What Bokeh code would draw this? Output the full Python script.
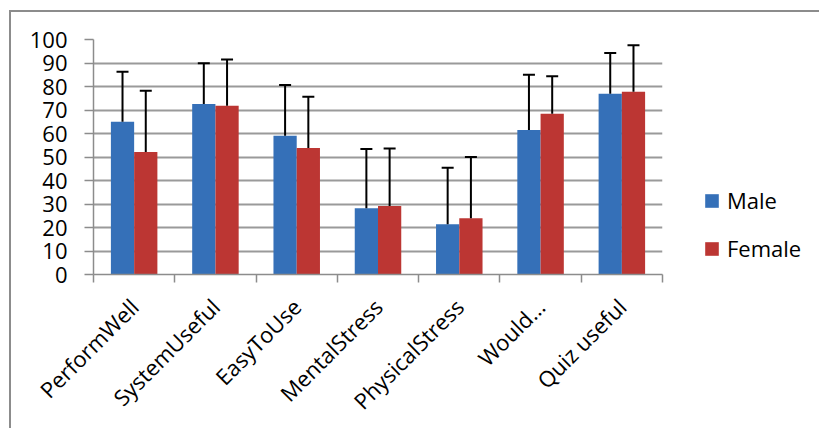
import numpy as np
from math import pi
from bokeh.plotting import figure
from bokeh.models import (ColumnDataSource, Range1d, FixedTicker, Whisker, TeeHead,
                          Legend, LegendItem, InlineStyleSheet)
from bokeh.embed import file_html
from bokeh.resources import INLINE

categories = ["PerformWell", "SystemUseful", "EasyToUse", "MentalStress",
              "PhysicalStress", "Would...", "Quiz useful"]
male_mean = [65.0, 72.6, 59.0, 28.2, 21.4, 61.5, 76.9]
male_sd = [21.3, 17.3, 21.6, 25.2, 24.0, 23.5, 17.4]
female_mean = [52.1, 71.8, 53.8, 29.1, 23.9, 68.4, 77.8]
female_sd = [26.1, 19.7, 21.8, 24.5, 26.1, 16.0, 19.8]
y_ticks = [0, 10, 20, 30, 40, 50, 60, 70, 80, 90, 100]

FONT = "Open Sans"
MALE_C = "#3570B8"
FEMALE_C = "#BC3633"
OFF = 0.143
BW = 0.286

n = len(categories)
xc = np.arange(n) + 0.5
src = ColumnDataSource(dict(
    xm=xc - OFF, xf=xc + OFF,
    m=male_mean, f=female_mean,
    m_up=np.array(male_mean) + np.array(male_sd),
    f_up=np.array(female_mean) + np.array(female_sd),
))

p = figure(frame_width=569, frame_height=235, output_backend="svg", toolbar_location=None,
           x_range=Range1d(0, n), y_range=Range1d(0, 100),
           min_border_left=93, min_border_right=149, min_border_top=39, min_border_bottom=120)
p.outline_line_color = None
p.background_fill_color = "white"
p.border_fill_color = "white"

rm = p.vbar(x="xm", top="m", bottom=0, width=BW, source=src, fill_color=MALE_C, line_color=None)
rf = p.vbar(x="xf", top="f", bottom=0, width=BW, source=src, fill_color=FEMALE_C, line_color=None)

for base, lo, up in (("xm", "m", "m_up"), ("xf", "f", "f_up")):
    w = Whisker(base=base, lower=lo, upper=up, source=src, dimension="height",
                line_color="black", line_width=2, level="annotation",
                upper_head=TeeHead(size=12, line_width=2, line_color="black"),
                lower_head=None)
    p.add_layout(w)

# y axis
p.yaxis.ticker = FixedTicker(ticks=y_ticks)
p.yaxis.major_tick_out = 9
p.yaxis.major_tick_in = 0
p.yaxis.minor_tick_out = 0
p.yaxis.minor_tick_in = 0
p.yaxis.axis_line_color = "#8C8C8C"
p.yaxis.axis_line_width = 1.5
p.yaxis.major_tick_line_color = "#8C8C8C"
p.yaxis.major_tick_line_width = 1.5
p.yaxis.major_label_text_font = FONT
p.yaxis.major_label_text_font_size = "22px"
p.yaxis.major_label_text_color = "black"
p.yaxis.major_label_standoff = 17

# x axis: labels at centres, ticks at boundaries
p.xaxis.ticker = FixedTicker(ticks=list(xc), minor_ticks=list(range(n + 1)))
p.xaxis.major_label_overrides = {float(x): c for x, c in zip(xc, categories)}
p.xaxis.major_tick_out = 0
p.xaxis.major_tick_in = 0
p.xaxis.minor_tick_out = 8
p.xaxis.minor_tick_in = 0
p.xaxis.minor_tick_line_color = "#8C8C8C"
p.xaxis.minor_tick_line_width = 1.5
p.xaxis.axis_line_color = "#8C8C8C"
p.xaxis.axis_line_width = 1.5
p.xaxis.major_label_orientation = pi / 4
p.xaxis.major_label_text_font = FONT
p.xaxis.major_label_text_font_size = "22px"
p.xaxis.major_label_text_color = "black"
p.xaxis.major_label_standoff = 20

p.xgrid.grid_line_color = None
p.ygrid.ticker = FixedTicker(ticks=y_ticks)
p.ygrid.grid_line_color = "#9A9A9A"
p.ygrid.grid_line_width = 2

legend = Legend(items=[LegendItem(label="Male", renderers=[rm]),
                       LegendItem(label="Female", renderers=[rf])],
                location=(41, 11), orientation="vertical",
                glyph_width=17, glyph_height=17, label_height=30, spacing=18,
                label_standoff=7, padding=0, margin=0,
                label_text_font=FONT, label_text_font_size="22px",
                label_text_color="black",
                border_line_color=None, background_fill_alpha=0)
p.add_layout(legend, "right")

p.stylesheets = [InlineStyleSheet(css="""
:host::after {
  content: "";
  position: absolute;
  left: 9px;
  top: 10px;
  width: calc(100% - 9px);
  height: calc(100% - 10px);
  border-left: 2px solid #8C8C8C;
  border-top: 2px solid #8C8C8C;
  box-sizing: border-box;
  pointer-events: none;
}
""")]

open("out.html", "w").write(file_html(p, INLINE))
